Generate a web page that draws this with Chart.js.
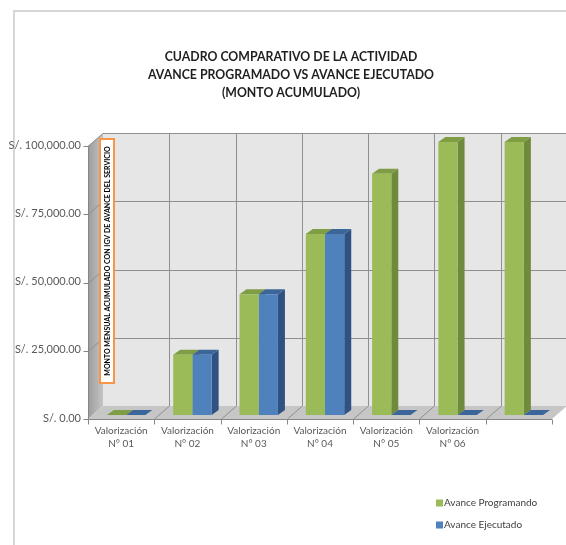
<!DOCTYPE html>
<html>
<head>
<meta charset="utf-8">
<script src="https://cdn.jsdelivr.net/npm/chart.js@4.4.1/dist/chart.umd.min.js"></script>
<style>
  body { margin: 0; background: #fff; }
  canvas { display: block; }
</style>
</head>
<body>
<canvas id="chart" width="566" height="545"></canvas>
<script>
"use strict";

const categories = [
  ["Valorización", "N° 01"],
  ["Valorización", "N° 02"],
  ["Valorización", "N° 03"],
  ["Valorización", "N° 04"],
  ["Valorización", "N° 05"],
  ["Valorización", "N° 06"],
  ""
];
const programado = [0, 22100, 44200, 66300, 88400, 100000, 100000];
const ejecutado = [0, 22100, 44200, 66300, 0, 0, 0];
const seriesNames = ["Avance Programando", "Avance Ejecutado"];
const titleLines = [
  "CUADRO COMPARATIVO DE LA ACTIVIDAD",
  "AVANCE PROGRAMADO VS AVANCE EJECUTADO",
  "(MONTO ACUMULADO)"
];
const yTitle = "MONTO MENSUAL ACUMULADO CON IGV DE AVANCE DEL SERVICIO";

// offsets of the fake 3d box, relative to the plane where the bars are drawn
const back = { dx: 10, dy: -9 };
const front = { dx: -5, dy: 4 };
const depth = { dx: 7, dy: -5 };

const faces = [
  { front: "#9bbb59", side: "#6f8a3a", top: "#7f9d44" },
  { front: "#4f81bd", side: "#2f5283", top: "#3c6699" }
];

function poly(ctx, pts, fill) {
  ctx.beginPath();
  ctx.moveTo(pts[0][0], pts[0][1]);
  for (let i = 1; i < pts.length; i++) ctx.lineTo(pts[i][0], pts[i][1]);
  ctx.closePath();
  ctx.fillStyle = fill;
  ctx.fill();
}

function line(ctx, x1, y1, x2, y2) {
  ctx.beginPath();
  ctx.moveTo(x1, y1);
  ctx.lineTo(x2, y2);
  ctx.stroke();
}

const box3d = {
  id: "box3d",
  beforeDraw(chart) {
    const ctx = chart.ctx;
    ctx.save();
    ctx.strokeStyle = "#d6d6d6";
    ctx.lineWidth = 2;
    line(ctx, 14, 10, 14, 545);
    line(ctx, 13, 11, 566, 11);
    ctx.restore();
  },
  beforeDatasetsDraw(chart) {
    const ctx = chart.ctx;
    const a = chart.chartArea;
    const y = chart.scales.y;
    const n = categories.length;
    const cw = (a.right - a.left) / n;
    const y0 = y.getPixelForValue(0);
    const yMax = y.getPixelForValue(100000);
    ctx.save();

    // back wall
    poly(ctx, [[a.left + back.dx, yMax + back.dy], [a.right + back.dx, yMax + back.dy],
      [a.right + back.dx, y0 + back.dy], [a.left + back.dx, y0 + back.dy]], "#e6e6e6");

    // side wall
    const g = ctx.createLinearGradient(a.left + front.dx, 0, a.left + back.dx, 0);
    g.addColorStop(0, "#9c9c9c");
    g.addColorStop(1, "#c4c4c4");
    poly(ctx, [[a.left + front.dx, yMax + front.dy], [a.left + back.dx, yMax + back.dy],
      [a.left + back.dx, y0 + back.dy], [a.left + front.dx, y0 + front.dy]], g);

    // floor
    poly(ctx, [[a.left + front.dx, y0 + front.dy], [a.left + back.dx, y0 + back.dy],
      [a.right + back.dx, y0 + back.dy], [a.right + front.dx, y0 + front.dy]], "#c6c6c6");

    ctx.lineWidth = 1;
    ctx.strokeStyle = "#8f8f8f";
    y.ticks.forEach(t => {
      const py = Math.round(y.getPixelForValue(t.value)) + 0.5;
      if (t.value > 0) {
        line(ctx, a.left + back.dx, py + back.dy, a.right + back.dx, py + back.dy);
        line(ctx, a.left + front.dx, py + front.dy, a.left + back.dx, py + back.dy);
      }
    });
    for (let i = 1; i < n; i++) {
      const px = Math.round(a.left + i * cw) + 0.5;
      line(ctx, px + back.dx, yMax + back.dy, px + back.dx, y0 + back.dy);
      line(ctx, px + front.dx, y0 + front.dy, px + back.dx, y0 + back.dy);
    }

    // front axes
    ctx.strokeStyle = "#868686";
    const fx = Math.round(a.left + front.dx) + 0.5;
    const fy = Math.round(y0 + front.dy) + 0.5;
    line(ctx, fx, yMax + front.dy, fx, fy);
    line(ctx, fx, fy, a.right + front.dx, fy);
    y.ticks.forEach(t => {
      const py = Math.round(y.getPixelForValue(t.value) + front.dy) + 0.5;
      line(ctx, fx - 5, py, fx, py);
    });
    for (let i = 0; i <= n; i++) {
      const px = Math.round(a.left + i * cw + front.dx) + 0.5;
      line(ctx, px, fy, px, fy + 5);
    }

    // side and top faces of the bars, behind the fronts drawn by chart.js
    chart.data.datasets.forEach((ds, di) => {
      const meta = chart.getDatasetMeta(di);
      const c = faces[di];
      meta.data.forEach(bar => {
        const p = bar.getProps(["x", "y", "base", "width"], true);
        const l = p.x - p.width / 2;
        const r = p.x + p.width / 2;
        const top = Math.min(p.y, p.base);
        const bot = p.base;
        poly(ctx, [[r, top], [r + depth.dx, top + depth.dy], [r + depth.dx, bot + depth.dy], [r, bot]], c.side);
        poly(ctx, [[l, top], [l + depth.dx, top + depth.dy], [r + depth.dx, top + depth.dy], [r, top]], c.top);
      });
    });
    ctx.restore();
  },
  afterDraw(chart) {
    const ctx = chart.ctx;
    ctx.save();

    // title: a bit taller than Lato gives, squeezed to the original width
    ctx.font = "bold 14px Lato";
    const sx = Math.min(1, 286 / ctx.measureText(titleLines[1]).width);
    ctx.fillStyle = "#1f1f1f";
    ctx.textAlign = "center";
    ctx.textBaseline = "middle";
    titleLines.forEach((t, i) => {
      ctx.setTransform(sx, 0, 0, 1, 291, 56 + i * 18);
      ctx.fillText(t, 0, 0);
    });
    ctx.setTransform(1, 0, 0, 1, 0, 0);

    // y axis title in its orange box
    ctx.fillStyle = "#ffffff";
    ctx.fillRect(100, 139, 14, 244);
    ctx.strokeStyle = "#f79646";
    ctx.lineWidth = 2;
    ctx.strokeRect(100, 139, 14, 244);
    ctx.translate(107.5, 261);
    ctx.rotate(-Math.PI / 2);
    ctx.fillStyle = "#000000";
    ctx.font = "bold 7px Lato";
    ctx.fillText(yTitle, 0, 0.5);
    ctx.setTransform(1, 0, 0, 1, 0, 0);

    // legend
    ctx.textAlign = "left";
    ctx.font = "10px Lato";
    chart.data.datasets.forEach((ds, i) => {
      const ly = 503 + i * 22;
      ctx.fillStyle = ds.backgroundColor;
      ctx.fillRect(436, ly - 3.5, 7, 7);
      ctx.fillStyle = "#404040";
      ctx.fillText(ds.label, 444, ly);
    });
    ctx.restore();
  }
};

const ctx = document.getElementById("chart").getContext("2d");
new Chart(ctx, {
  type: "bar",
  data: {
    labels: categories,
    datasets: [
      { label: seriesNames[0], data: programado, backgroundColor: faces[0].front },
      { label: seriesNames[1], data: ejecutado, backgroundColor: faces[1].front }
    ]
  },
  options: {
    responsive: false,
    animation: false,
    layout: { padding: { left: 0, right: 9, top: 142, bottom: 90 } },
    plugins: {
      legend: { display: false },
      title: { display: false },
      tooltip: { enabled: false }
    },
    datasets: {
      bar: { categoryPercentage: 0.58, barPercentage: 1 }
    },
    scales: {
      x: {
        grid: { display: false, drawTicks: false },
        border: { display: false },
        afterFit(scale) { scale.height = 40; },
        ticks: {
          color: "#595959",
          font: { family: "Lato", size: 10, lineHeight: 1.3 },
          padding: 9,
          labelOffset: -5,
          maxRotation: 0,
          autoSkip: false
        }
      },
      y: {
        min: 0,
        max: 100000,
        grid: { display: false, drawTicks: false },
        border: { display: false },
        afterFit(scale) { scale.width = 93; },
        ticks: {
          stepSize: 25000,
          color: "#595959",
          font: { family: "Lato", size: 11 },
          padding: 12,
          labelOffset: 3,
          callback: v => "S/. " + v.toLocaleString("en-US", { minimumFractionDigits: 2, maximumFractionDigits: 2 })
        }
      }
    }
  },
  plugins: [box3d]
});
</script>
</body>
</html>
